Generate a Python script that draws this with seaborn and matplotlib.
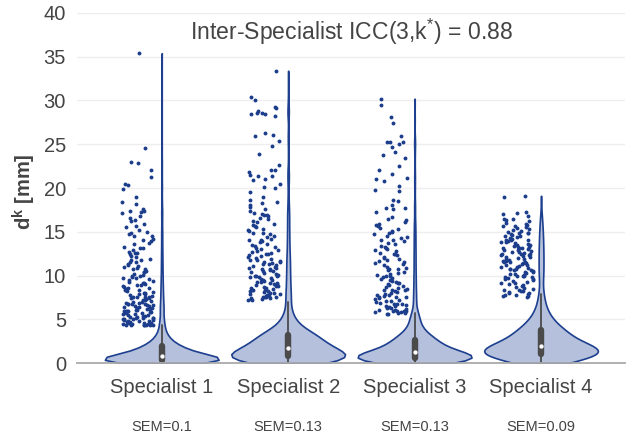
import numpy as np
import pandas as pd
import matplotlib
matplotlib.use("Agg")
import matplotlib.pyplot as plt
import matplotlib.transforms as mtransforms
import seaborn as sns

# ---------------------------------------------------------------- data
specialists = ["Specialist 1", "Specialist 2", "Specialist 3", "Specialist 4"]
sem_labels = ["SEM=0.1", "SEM=0.13", "SEM=0.13", "SEM=0.09"]
title_text = r"Inter-Specialist ICC(3,k$^{*}$) = 0.88"
y_ticks = [0, 5, 10, 15, 20, 25, 30, 35, 40]

# bulk of the distance values (value -> number of cases)
s1_core_values = [0.0, 0.1, 0.2, 0.3, 0.4, 0.5, 0.6, 0.7, 0.8, 0.9, 1.0, 1.1, 1.2, 1.3,
                  1.4, 1.5, 1.6, 1.7, 1.8, 1.9, 2.0, 2.2, 2.4, 2.6, 2.8, 3.0, 3.2, 3.4,
                  3.6, 3.8, 4.0, 4.2]
s1_core_counts = [100, 100, 95, 80, 85, 80, 75, 70, 65, 50, 46, 42, 39, 36,
                  33, 30, 28, 26, 24, 21, 36, 31, 27, 23, 19, 16, 13, 11,
                  9, 8, 7, 5]

s2_core_values = [0.0, 0.2, 0.4, 0.6, 0.8, 1.0, 1.2, 1.4, 1.6, 1.8, 2.0, 2.2, 2.4, 2.6,
                  2.8, 3.0, 3.2, 3.4, 3.8, 4.2, 4.6, 5.0, 5.4, 5.8, 6.2, 6.6, 7.0]
s2_core_counts = [70, 105, 105, 95, 85, 80, 75, 70, 65, 58, 54, 50, 47, 44,
                  42, 41, 39, 60, 45, 33, 25, 18, 14, 10, 8, 7, 5]

s3_core_values = [0.0, 0.1, 0.2, 0.3, 0.4, 0.5, 0.6, 0.7, 0.8, 0.9, 1.0, 1.1, 1.2, 1.3,
                  1.4, 1.6, 1.8, 2.0, 2.2, 2.4, 2.6, 2.8, 3.0, 3.3, 3.6, 4.0, 4.4, 4.8,
                  5.2, 5.5]
s3_core_counts = [45, 60, 70, 70, 68, 62, 62, 59, 56, 53, 50, 49, 46, 44,
                  42, 60, 55, 50, 45, 42, 37, 40, 35, 40, 30, 28, 22, 18,
                  14, 12]

s4_core_values = [0.0, 0.2, 0.4, 0.6, 0.8, 1.0, 1.2, 1.4, 1.6, 1.8, 2.0, 2.2, 2.4, 2.6,
                  2.8, 3.0, 3.2, 3.4, 3.6, 3.8, 4.2, 4.6, 5.0, 5.4, 5.8, 6.2, 6.6, 7.0,
                  7.5]
s4_core_counts = [32, 50, 65, 75, 80, 75, 95, 95, 92, 90, 52, 50, 47, 44,
                  42, 40, 36, 33, 31, 55, 45, 36, 30, 24, 18, 14, 12, 10,
                  8]

# cases beyond the upper whisker, shown as individual points
s1_outliers = [35.4, 24.6, 23.0, 22.8, 22.0, 21.3, 20.4, 20.3, 19.9, 19.0, 18.4, 18.2,
               17.6, 17.4, 17.4, 17.3, 17.1, 16.8, 16.6, 16.3, 16.2, 15.9, 15.6, 15.5,
               15.2, 15.0, 14.9, 14.7, 14.5, 14.5, 14.2, 14.0, 13.9, 13.7, 13.6, 13.3,
               13.2, 13.1, 12.9, 12.7, 12.6, 12.6, 12.4, 12.2, 12.1, 11.9, 11.8, 11.8,
               11.6, 11.5, 11.3, 11.2, 11.1, 11.0, 10.9, 10.8, 10.7, 10.5, 10.4, 10.4,
               10.2, 10.1, 10.0, 9.9, 9.8, 9.7, 9.7, 9.5, 9.4, 9.3, 9.2, 9.1, 9.0, 8.9,
               8.9, 8.8, 8.7, 8.6, 8.5, 8.4, 8.4, 8.3, 8.2, 8.1, 8.0, 7.9, 7.9, 7.8,
               7.7, 7.6, 7.5, 7.5, 7.4, 7.3, 7.2, 7.1, 7.0, 7.0, 6.9, 6.8, 6.8, 6.7,
               6.6, 6.6, 6.5, 6.4, 6.4, 6.3, 6.3, 6.2, 6.1, 6.1, 6.0, 5.9, 5.9, 5.8,
               5.7, 5.7, 5.6, 5.6, 5.5, 5.4, 5.4, 5.3, 5.3, 5.2, 5.1, 5.1, 5.0, 5.0,
               4.9, 4.9, 4.8, 4.8, 4.7, 4.7, 4.6, 4.6, 4.5, 4.5, 4.4, 4.4, 4.4, 4.3, 4.3,
               9.6, 8.0, 7.6, 7.2, 6.9, 6.7, 6.5, 6.2, 6.0, 5.8, 5.5, 5.2, 5.0, 4.8,
               4.6, 4.5, 4.4, 4.35, 6.3, 7.4, 8.6]

s2_outliers = [33.4, 30.4, 30.1, 29.3, 29.1, 28.8, 28.6, 28.6, 28.5, 28.4, 28.2, 26.3,
               26.0, 25.9, 25.4, 24.8, 23.9, 22.6, 22.1, 22.0, 21.8, 21.5, 21.4, 21.4,
               21.0, 20.9, 20.5, 20.1, 20.0, 19.5, 19.0, 18.6, 18.4, 18.3, 18.0, 17.8,
               17.6, 17.4, 17.1, 17.0, 16.9, 16.9, 16.8, 16.6, 16.4, 16.2, 16.1, 15.9,
               15.8, 15.6, 15.5, 15.3, 15.2, 15.1, 14.9, 14.8, 14.7, 14.5, 14.4, 14.2,
               14.1, 14.0, 13.9, 13.8, 13.6, 13.5, 13.4, 13.3, 13.1, 13.0, 12.9, 12.8,
               12.7, 12.6, 12.5, 12.4, 12.3, 12.2, 12.1, 12.0, 11.9, 11.8, 11.8, 11.7,
               11.6, 11.5, 11.4, 11.3, 11.3, 11.2, 11.1, 11.0, 10.9, 10.9, 10.8, 10.7,
               10.6, 10.5, 10.5, 10.4, 10.3, 10.2, 10.1, 10.0, 10.0, 9.9, 9.8, 9.8,
               9.7, 9.6, 9.5, 9.5, 9.4, 9.3, 9.3, 9.2, 9.1, 9.0, 9.0, 8.9, 8.8, 8.8,
               8.7, 8.6, 8.6, 8.5, 8.4, 8.4, 8.3, 8.2, 8.2, 8.1, 8.0, 8.0, 7.9, 7.9,
               7.8, 7.8, 7.7, 7.7, 7.6, 7.6, 7.5, 7.5, 7.4, 7.4, 7.3, 7.3, 7.2, 7.2]

s3_outliers = [30.2, 29.5, 28.1, 27.4, 25.9, 25.3, 25.3, 25.2, 25.0, 24.7, 24.1, 23.8,
               23.4, 22.5, 22.1, 21.6, 21.1, 21.0, 20.8, 20.2, 19.8, 19.6, 18.6, 18.5,
               18.1, 17.7, 17.7, 17.6, 17.2, 16.7, 16.5, 16.3, 16.1, 15.9, 15.8, 15.6,
               15.4, 15.3, 15.1, 15.0, 14.8, 14.7, 14.5, 14.4, 14.3, 14.1, 14.0, 13.9,
               13.7, 13.6, 13.4, 13.3, 13.1, 13.0, 12.9, 12.8, 12.6, 12.5, 12.4, 12.3,
               12.1, 12.0, 11.9, 11.8, 11.7, 11.5, 11.4, 11.3, 11.2, 11.0, 10.9, 10.8,
               10.7, 10.6, 10.4, 10.3, 10.2, 10.1, 10.0, 9.9, 9.8, 9.7, 9.6, 9.5, 9.4,
               9.3, 9.2, 9.1, 9.0, 8.9, 8.8, 8.7, 8.6, 8.5, 8.4, 8.3, 8.3, 8.2, 8.1,
               8.0, 7.9, 7.8, 7.8, 7.7, 7.6, 7.5, 7.5, 7.4, 7.3, 7.2, 7.1, 7.1, 7.0,
               6.9, 6.8, 6.8, 6.7, 6.6, 6.5, 6.5, 6.4, 6.3, 6.3, 6.2, 6.1, 6.1, 6.0,
               6.0, 5.9, 5.9, 5.8, 5.8, 5.7, 5.7, 5.6, 5.6]

s4_outliers = [19.1, 19.0, 17.3, 17.1, 17.0, 16.8, 16.5, 16.4, 16.3, 16.2, 16.0, 15.9,
               15.8, 15.7, 15.6, 15.5, 15.4, 15.3, 15.2, 15.1, 15.0, 14.9, 14.9, 14.8,
               14.7, 14.6, 14.5, 14.5, 14.4, 14.3, 14.2, 14.1, 14.1, 14.0, 13.9, 13.8,
               13.8, 13.7, 13.6, 13.5, 13.5, 13.4, 13.3, 13.3, 13.2, 13.1, 13.1, 13.0,
               12.9, 12.9, 12.8, 12.7, 12.7, 12.6, 12.5, 12.5, 12.4, 12.3, 12.3, 12.2,
               12.1, 12.1, 12.0, 11.9, 11.9, 11.8, 11.7, 11.7, 11.6, 11.5, 11.5, 11.4,
               11.4, 11.3, 11.2, 11.2, 11.1, 11.0, 11.0, 10.9, 10.8, 10.8, 10.7, 10.6,
               10.6, 10.5, 10.4, 10.4, 10.3, 10.2, 10.2, 10.1, 10.0, 10.0, 9.9, 9.8,
               9.8, 9.7, 9.6, 9.6, 9.5, 9.4, 9.3, 9.2, 9.1, 9.0, 8.9, 8.8, 8.7, 8.6,
               8.5, 8.4, 8.3, 8.2, 8.2, 8.1, 8.0, 8.0, 7.9, 7.8, 7.8, 7.7, 7.7, 7.6]

core_values = [s1_core_values, s2_core_values, s3_core_values, s4_core_values]
core_counts = [s1_core_counts, s2_core_counts, s3_core_counts, s4_core_counts]
outliers = [s1_outliers, s2_outliers, s3_outliers, s4_outliers]

# ---------------------------------------------------------------- tables
all_frames, out_frames = [], []
for name, vals, cnts, outs in zip(specialists, core_values, core_counts, outliers):
    full = np.concatenate([np.repeat(vals, cnts), outs])
    all_frames.append(pd.DataFrame({"specialist": name, "d": full}))
    out_frames.append(pd.DataFrame({"specialist": name, "d": outs}))
df = pd.concat(all_frames, ignore_index=True)
df_out = pd.concat(out_frames, ignore_index=True)


def silverman_factor(kde):
    """Silverman bandwidth (robust spread) expressed as a gaussian_kde factor."""
    x = kde.dataset[0]
    sd = x.std(ddof=1)
    q1, q3 = np.percentile(x, [25, 75])
    spread = min(sd, (q3 - q1) / 1.349)
    return 0.9 * spread * kde.n ** -0.2 / sd


# ---------------------------------------------------------------- style
sns.set_style("white")
plt.rcParams["font.family"] = ["Liberation Sans", "DejaVu Sans"]
plt.rcParams["mathtext.fontset"] = "custom"
plt.rcParams["mathtext.rm"] = "Liberation Sans"
plt.rcParams["mathtext.it"] = "Liberation Sans:italic"
plt.rcParams["mathtext.bf"] = "Liberation Sans:bold"

text_color = "#444444"
edge_blue = "#1d3f8f"
fill_blue = "#b4c0dc"
dot_blue = "#1c3d8c"

fig = plt.figure(figsize=(6.41, 4.36), dpi=100)
ax = fig.add_axes([77 / 641, 73 / 436, 548 / 641, 350 / 436])

sns.violinplot(
    data=df, x="specialist", y="d", order=specialists,
    color=fill_blue, saturation=1, linecolor=edge_blue, linewidth=1.2,
    width=0.9, density_norm="width", cut=0,
    bw_method=silverman_factor, bw_adjust=1.8,
    inner="box",
    inner_kws=dict(color="#4a4a4a", box_width=4.6, whis_width=1.3,
                   marker="o", markersize=2.2),
    ax=ax,
)

np.random.seed(3)
n_before = len(ax.collections)
sns.stripplot(
    data=df_out, x="specialist", y="d", order=specialists,
    color=dot_blue, size=2.8, linewidth=0, jitter=0.13, ax=ax, zorder=3,
)
shift = mtransforms.ScaledTranslation(-0.24, 0, fig.dpi_scale_trans)
for coll in ax.collections[n_before:]:
    coll.set_offset_transform(ax.transData + shift)

ax.set_xlim(-0.67, 3.664)
ax.set_ylim(0, 40)
ax.set_yticks(y_ticks)
ax.grid(axis="y", color="#eeeeee", linewidth=1)
ax.grid(axis="x", visible=False)
ax.set_axisbelow(True)
for side in ["top", "right", "left"]:
    ax.spines[side].set_visible(False)
ax.spines["bottom"].set_color("#aaaaaa")
ax.spines["bottom"].set_linewidth(1.3)

ax.tick_params(axis="y", length=4, width=0.8, color="#bbbbbb",
               labelsize=14.5, labelcolor=text_color, pad=4)
ax.tick_params(axis="x", length=4, width=0.8, color="#bbbbbb",
               labelsize=14.5, labelcolor=text_color, pad=7)
ax.set_xlabel("")
ax.set_ylabel(r"d$^{\mathbf{k}}$ [mm]", fontsize=14.5, fontweight="bold",
              color=text_color)
ax.yaxis.set_label_coords(-0.071, 0.49)

ax.text(1.5, 37.8, title_text, ha="center", va="center",
        fontsize=16.6, color=text_color)

sem_trans = mtransforms.blended_transform_factory(ax.transData, ax.transAxes)
for i, lab in enumerate(sem_labels):
    ax.text(i, -0.183, lab, transform=sem_trans, ha="center", va="center",
            fontsize=10.5, color=text_color)

fig.savefig("out.png", dpi=100)
